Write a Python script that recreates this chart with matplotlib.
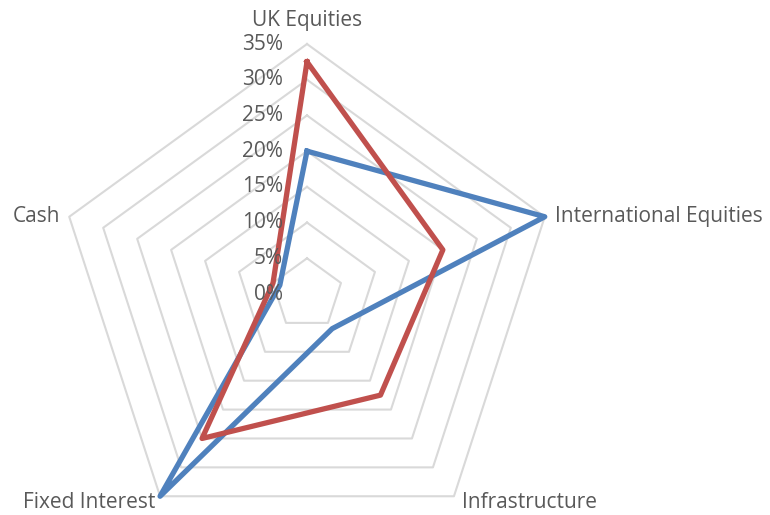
import numpy as np
import matplotlib
matplotlib.use("Agg")
import matplotlib.pyplot as plt

categories = ["UK Equities", "International Equities", "Infrastructure", "Fixed Interest", "Cash"]
series_blue = [20, 35, 6, 35, 4]
series_red = [32.5, 20, 17.5, 25, 5]
r_ticks = [0, 5, 10, 15, 20, 25, 30, 35]
r_tick_labels = ["0%", "5%", "10%", "15%", "20%", "25%", "30%", "35%"]

plt.rcParams['font.family'] = ['Open Sans', 'DejaVu Sans']

W, H = 770, 515
fig = plt.figure(figsize=(W / 100, H / 100), dpi=100)
cx, cy, R = 307, 294, 250
ax = fig.add_axes([(cx - R) / W, (H - cy - R) / H, 2 * R / W, 2 * R / H], projection='polar')
ax.set_theta_offset(np.pi / 2)
ax.set_theta_direction(-1)
ax.set_ylim(0, 35)
ax.grid(False)
ax.spines['polar'].set_visible(False)
ax.set_xticks([])
ax.set_yticks([])
ax.patch.set_alpha(0)

n = len(categories)
theta = np.linspace(0, 2 * np.pi, n, endpoint=False)
theta_c = np.append(theta, theta[0])

for r in r_ticks[1:]:
    ax.plot(theta_c, [r] * (n + 1), color='#D9D9D9', lw=1.5, zorder=1, clip_on=False)

for vals, col in [(series_blue, '#4F81BD'), (series_red, '#C0504D')]:
    v = np.append(vals, vals[0])
    ax.plot(theta_c, v, color=col, lw=3.8, zorder=3, solid_joinstyle='round', clip_on=False)

for r, lab in zip(r_ticks, r_tick_labels):
    ax.annotate(lab, xy=(0, r), xytext=(-17.3, 0), textcoords='offset points',
                ha='right', va='center', fontsize=15, color='#595959', zorder=4)

px = 0.72
offsets = [((0, 18.3 * px), 'center'),
           ((10 * px, -5 * px), 'left'),
           ((8 * px, -12 * px), 'left'),
           ((-5 * px, -12 * px), 'right'),
           ((-9 * px, -5 * px), 'right')]
for t, lab, (off, ha) in zip(theta, categories, offsets):
    ax.annotate(lab, xy=(t, 35), xytext=off, textcoords='offset points',
                ha=ha, va='baseline', fontsize=15, color='#595959', annotation_clip=False)

fig.savefig('out.png', dpi=100)
